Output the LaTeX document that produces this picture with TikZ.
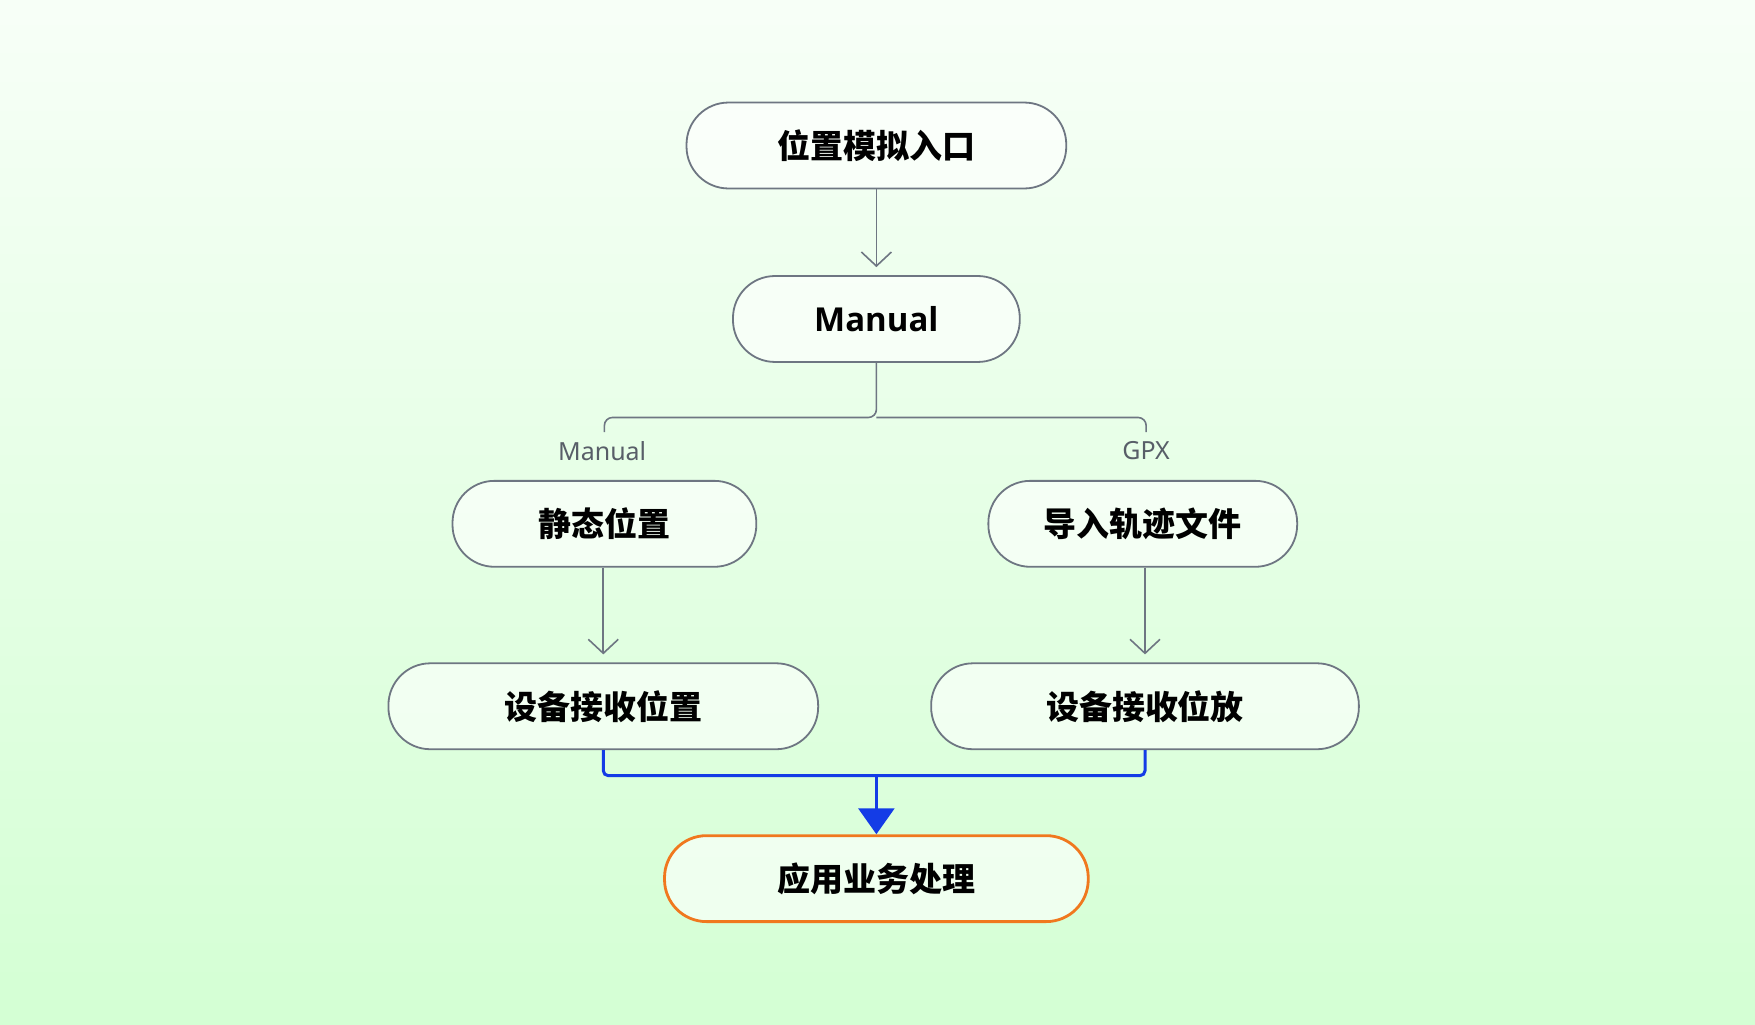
\documentclass[tikz,border=0pt]{standalone}
\usepackage{fontspec}
\setmainfont{Noto Sans}
\newfontfamily\cjk{Noto Sans CJK SC}
\newfontfamily\latb{Open Sans}
\usetikzlibrary{arrows.meta}
\definecolor{bl}{RGB}{20,60,230}
\definecolor{org}{RGB}{240,120,30}
\definecolor{ln}{RGB}{110,118,130}
\begin{document}
\begin{tikzpicture}[x=1.12pt,y=-1.12pt,
 box/.style={draw=ln,line width=1.8pt,rounded corners=42pt,minimum height=86pt,fill=white,fill opacity=0.6,text opacity=1,font=\cjk\bfseries\fontsize{33}{35}\selectfont,inner sep=0pt},
 arr/.style={draw=ln,line width=1.6pt,shorten >=8pt,-{Straight Barb[length=14pt,width=30pt,line width=1.6pt]}},
 lab/.style={font=\fontsize{25}{27}\selectfont,text=ln!80!black}]
\shade[top color=green!3!white,bottom color=green!17!white] (0,0) rectangle (1568,915);
\useasboundingbox (0,0) rectangle (1568,915);
\node[box,minimum width=380pt] (a) at (783,130) {位置模拟入口};
\node[box,minimum width=287pt,font=\latb\bfseries\fontsize{33}{35}\selectfont] (m) at (783,285) {Manual};
\node[box,minimum width=304pt] (s) at (540,468) {静态位置};
\node[box,minimum width=309pt] (g) at (1021,468) {导入轨迹文件};
\node[box,minimum width=430pt] (r1) at (539,631) {设备接收位置};
\node[box,minimum width=428pt] (r2) at (1023,631) {设备接收位放};
\node[box,minimum width=424pt,draw=org,line width=2.8pt] (f) at (783,785) {应用业务处理};
\node[lab] (l1) at (538,403) {Manual};
\node[lab] (l2) at (1024,403) {GPX};
\coordinate (j) at (783,373);
\coordinate (cl) at (540,386);
\coordinate (cr) at (1024,386);
\draw[arr] (a) -- (m);
\draw[draw=ln,line width=1.6pt,rounded corners=8pt] (cl) |- (j) -- (m.south);
\draw[draw=ln,line width=1.6pt,rounded corners=8pt] (cr) |- (j);
\draw[arr] (s.south -| r1.north) -- (r1.north);
\draw[arr] (g.south -| r2.north) -- (r2.north);
\coordinate (bj) at (783,693);
\draw[bl,line width=3pt,rounded corners=5pt] (r1.south) |- (bj) -| (r2.south);
\draw[bl,line width=3pt,-{Triangle[length=26pt,width=36pt]}] (bj) -- (f.north);
\end{tikzpicture}
\end{document}
